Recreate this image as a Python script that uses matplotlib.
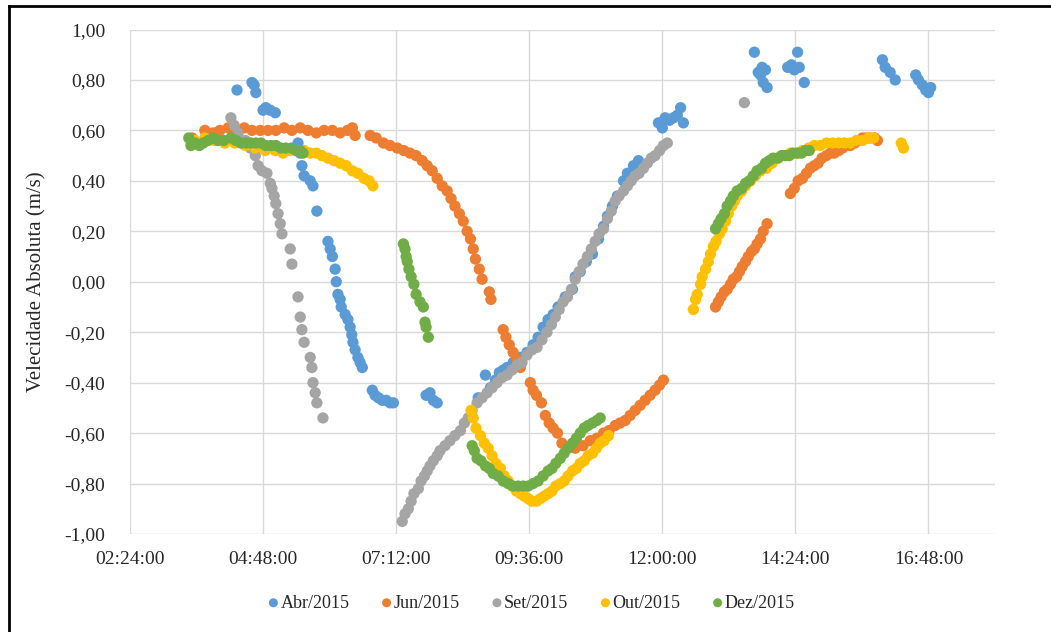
import matplotlib
matplotlib.use("Agg")
import matplotlib.pyplot as plt
from matplotlib.ticker import FuncFormatter, FixedLocator
from matplotlib.lines import Line2D

# Measurement time (decimal hours) and absolute velocity (m/s) per campaign
abr_hours = [4.33, 4.60, 4.64, 4.67, 4.80, 4.85, 4.93, 5.02, 5.43, 5.47, 5.50, 5.54, 5.65, 5.70,
             5.77, 5.97, 6.01, 6.05, 6.10, 6.12, 6.15, 6.19, 6.21, 6.28, 6.33, 6.37, 6.40, 6.42,
             6.46, 6.51, 6.55, 6.59, 6.77, 6.82, 6.88, 6.95, 7.02, 7.09, 7.15, 7.74, 7.81, 7.87,
             7.94, 8.68, 8.81, 8.90, 8.99, 9.06, 9.13, 9.20, 9.31, 9.44, 9.56, 9.67, 9.76, 9.85,
             9.94, 10.03, 10.12, 10.25, 10.38, 10.43, 10.52, 10.63, 10.74, 10.85, 10.94, 11.01,
             11.10, 11.19, 11.30, 11.37, 11.48, 11.57, 11.93, 12.00, 12.05, 12.13, 12.20, 12.27,
             12.33, 12.38, 13.66, 13.73, 13.77, 13.80, 13.86, 13.82, 13.89, 14.26, 14.33, 14.38,
             14.44, 14.47, 14.56, 15.97, 16.02, 16.11, 16.20, 16.57, 16.62, 16.69, 16.75, 16.80,
             16.84]
abr_vel = [0.76, 0.79, 0.78, 0.75, 0.68, 0.69, 0.68, 0.67, 0.55, 0.51, 0.46, 0.42, 0.40, 0.38,
           0.28, 0.16, 0.13, 0.10, 0.05, 0.00, -0.05, -0.07, -0.10, -0.13, -0.15, -0.18, -0.21,
           -0.24, -0.27, -0.30, -0.32, -0.34, -0.43, -0.45, -0.46, -0.47, -0.47, -0.48, -0.48,
           -0.45, -0.44, -0.47, -0.48, -0.46, -0.37, -0.42, -0.39, -0.36, -0.35, -0.34, -0.32,
           -0.30, -0.28, -0.25, -0.22, -0.18, -0.15, -0.13, -0.10, -0.06, -0.03, 0.02, 0.04,
           0.08, 0.11, 0.17, 0.22, 0.26, 0.30, 0.34, 0.40, 0.43, 0.46, 0.48, 0.63, 0.61, 0.65,
           0.64, 0.65, 0.66, 0.69, 0.63, 0.91, 0.83, 0.82, 0.85, 0.84, 0.79, 0.77, 0.85, 0.86,
           0.84, 0.91, 0.85, 0.79, 0.88, 0.85, 0.83, 0.80, 0.82, 0.80, 0.78, 0.76, 0.75, 0.77]

jun_hours = [3.52, 3.75, 3.90, 4.02, 4.17, 4.31, 4.46, 4.60, 4.75, 4.89, 5.03, 5.18, 5.32, 5.47,
             5.61, 5.76, 5.90, 6.05, 6.19, 6.32, 6.41, 6.46, 6.73, 6.84, 6.97, 7.09, 7.22, 7.34,
             7.45, 7.56, 7.67, 7.76, 7.85, 7.94, 8.03, 8.12, 8.19, 8.26, 8.34, 8.41, 8.48, 8.54,
             8.59, 8.63, 8.70, 8.75, 8.88, 8.91, 9.13, 9.18, 9.24, 9.31, 9.38, 9.44, 9.62, 9.67,
             9.73, 9.82, 9.89, 9.96, 10.03, 10.11, 10.19, 10.28, 10.43, 10.57, 10.70, 10.82,
             10.94, 11.04, 11.15, 11.24, 11.33, 11.42, 11.51, 11.60, 11.69, 11.78, 11.87, 11.95,
             12.02, 12.96, 13.01, 13.06, 13.12, 13.17, 13.23, 13.28, 13.34, 13.39, 13.44, 13.50,
             13.55, 13.61, 13.66, 13.71, 13.77, 13.82, 13.89, 14.31, 14.38, 14.45, 14.53, 14.60,
             14.67, 14.74, 14.81, 14.88, 14.96, 15.03, 15.10, 15.18, 15.25, 15.32, 15.39, 15.47,
             15.54, 15.61, 15.68, 15.75, 15.83, 15.88]
jun_vel = [0.57, 0.60, 0.59, 0.60, 0.61, 0.60, 0.61, 0.60, 0.60, 0.60, 0.60, 0.61, 0.60, 0.61,
           0.60, 0.59, 0.60, 0.60, 0.59, 0.60, 0.61, 0.58, 0.58, 0.57, 0.55, 0.54, 0.53, 0.52,
           0.51, 0.50, 0.48, 0.46, 0.44, 0.41, 0.38, 0.36, 0.33, 0.30, 0.27, 0.24, 0.20, 0.17,
           0.13, 0.09, 0.05, 0.01, -0.04, -0.07, -0.19, -0.22, -0.25, -0.28, -0.31, -0.34,
           -0.40, -0.43, -0.45, -0.48, -0.53, -0.56, -0.58, -0.60, -0.64, -0.66, -0.66, -0.65,
           -0.63, -0.62, -0.60, -0.59, -0.57, -0.56, -0.55, -0.53, -0.51, -0.49, -0.47, -0.45,
           -0.43, -0.41, -0.39, -0.10, -0.08, -0.06, -0.04, -0.03, -0.01, 0.01, 0.02, 0.04,
           0.06, 0.08, 0.10, 0.12, 0.13, 0.15, 0.17, 0.20, 0.23, 0.35, 0.37, 0.40, 0.41, 0.43,
           0.45, 0.46, 0.47, 0.49, 0.50, 0.51, 0.51, 0.52, 0.53, 0.54, 0.54, 0.55, 0.56, 0.57,
           0.57, 0.57, 0.57, 0.56]

set_hours = [4.22, 4.28, 4.35, 4.48, 4.57, 4.66, 4.71, 4.78, 4.87, 4.93, 4.96, 5.00, 5.03, 5.07,
             5.11, 5.14, 5.29, 5.32, 5.43, 5.47, 5.50, 5.54, 5.65, 5.68, 5.70, 5.74, 5.77, 5.88,
             7.31, 7.36, 7.42, 7.47, 7.52, 7.60, 7.65, 7.71, 7.76, 7.81, 7.87, 7.94, 7.99, 8.08,
             8.17, 8.26, 8.36, 8.43, 8.50, 8.57, 8.66, 8.75, 8.84, 8.93, 9.02, 9.11, 9.20, 9.29,
             9.38, 9.47, 9.56, 9.65, 9.74, 9.83, 9.92, 10.00, 10.07, 10.14, 10.21, 10.29, 10.36,
             10.43, 10.50, 10.57, 10.65, 10.72, 10.79, 10.86, 10.94, 11.01, 11.08, 11.15, 11.22,
             11.30, 11.37, 11.44, 11.51, 11.58, 11.66, 11.73, 11.80, 11.87, 11.95, 12.02, 12.09,
             13.48]
set_vel = [0.65, 0.62, 0.59, 0.56, 0.53, 0.50, 0.46, 0.44, 0.43, 0.39, 0.37, 0.34, 0.31, 0.27,
           0.23, 0.19, 0.13, 0.07, -0.06, -0.14, -0.19, -0.24, -0.30, -0.34, -0.40, -0.44, -0.48,
           -0.54, -0.95, -0.92, -0.90, -0.87, -0.84, -0.82, -0.79, -0.77, -0.75, -0.73, -0.71,
           -0.69, -0.67, -0.65, -0.63, -0.61, -0.59, -0.56, -0.54, -0.51, -0.48, -0.46, -0.44,
           -0.42, -0.40, -0.38, -0.37, -0.35, -0.33, -0.32, -0.29, -0.27, -0.26, -0.23, -0.20,
           -0.17, -0.14, -0.11, -0.08, -0.06, -0.03, 0.01, 0.04, 0.07, 0.10, 0.13, 0.16, 0.19,
           0.21, 0.25, 0.28, 0.32, 0.34, 0.36, 0.38, 0.40, 0.42, 0.43, 0.45, 0.47, 0.49, 0.50,
           0.52, 0.54, 0.55, 0.71]

out_hours = [3.57, 3.75, 3.93, 4.11, 4.29, 4.48, 4.66, 4.84, 5.02, 5.16, 5.29, 5.41, 5.54, 5.65,
             5.76, 5.86, 5.97, 6.08, 6.19, 6.30, 6.41, 6.51, 6.62, 6.71, 6.78, 8.55, 8.59, 8.64,
             8.72, 8.79, 8.86, 8.93, 9.00, 9.08, 9.15, 9.22, 9.29, 9.37, 9.44, 9.51, 9.58, 9.65,
             9.73, 9.80, 9.87, 9.94, 10.01, 10.08, 10.16, 10.23, 10.30, 10.38, 10.45, 10.52,
             10.59, 10.66, 10.74, 10.81, 10.88, 10.95, 11.03, 12.56, 12.60, 12.63, 12.69, 12.72,
             12.78, 12.83, 12.87, 12.92, 12.97, 13.03, 13.08, 13.14, 13.19, 13.25, 13.30, 13.35,
             13.43, 13.50, 13.59, 13.68, 13.77, 13.88, 13.98, 14.09, 14.20, 14.31, 14.42, 14.53,
             14.64, 14.74, 14.85, 14.96, 15.07, 15.18, 15.28, 15.39, 15.50, 15.61, 15.72, 15.81,
             16.31, 16.35]
out_vel = [0.56, 0.57, 0.56, 0.55, 0.55, 0.54, 0.53, 0.52, 0.52, 0.51, 0.52, 0.52, 0.52, 0.51,
           0.51, 0.50, 0.49, 0.48, 0.47, 0.46, 0.44, 0.43, 0.41, 0.40, 0.38, -0.51, -0.54, -0.58,
           -0.61, -0.64, -0.66, -0.69, -0.72, -0.74, -0.77, -0.79, -0.81, -0.83, -0.84, -0.85,
           -0.86, -0.87, -0.87, -0.86, -0.85, -0.84, -0.83, -0.81, -0.80, -0.79, -0.77, -0.75,
           -0.74, -0.72, -0.71, -0.69, -0.68, -0.66, -0.64, -0.63, -0.61, -0.11, -0.07, -0.05,
           -0.01, 0.02, 0.05, 0.08, 0.11, 0.14, 0.16, 0.19, 0.21, 0.24, 0.27, 0.30, 0.32, 0.34,
           0.36, 0.38, 0.40, 0.42, 0.44, 0.45, 0.47, 0.49, 0.50, 0.51, 0.51, 0.52, 0.53, 0.54,
           0.54, 0.55, 0.55, 0.55, 0.55, 0.55, 0.56, 0.56, 0.57, 0.57, 0.55, 0.53]

dez_hours = [3.46, 3.50, 3.57, 3.65, 3.72, 3.81, 3.90, 3.99, 4.09, 4.22, 4.31, 4.40, 4.49, 4.58,
             4.67, 4.76, 4.85, 4.94, 5.03, 5.12, 5.21, 5.31, 5.40, 5.47, 5.52, 7.33, 7.36, 7.38,
             7.40, 7.43, 7.47, 7.52, 7.56, 7.63, 7.69, 7.72, 7.74, 7.78, 8.57, 8.61, 8.66, 8.73,
             8.81, 8.88, 8.95, 9.04, 9.13, 9.22, 9.31, 9.40, 9.49, 9.58, 9.67, 9.76, 9.85, 9.94,
             10.01, 10.08, 10.16, 10.23, 10.30, 10.38, 10.45, 10.52, 10.59, 10.66, 10.74, 10.82,
             10.88, 12.96, 13.01, 13.06, 13.12, 13.17, 13.23, 13.28, 13.35, 13.43, 13.50, 13.57,
             13.64, 13.71, 13.79, 13.86, 13.93, 14.00, 14.08, 14.15, 14.22, 14.29, 14.36, 14.44,
             14.51, 14.58, 14.65]
dez_vel = [0.57, 0.54, 0.55, 0.54, 0.55, 0.56, 0.57, 0.56, 0.56, 0.57, 0.56, 0.55, 0.55, 0.55,
           0.55, 0.55, 0.54, 0.54, 0.54, 0.53, 0.53, 0.53, 0.52, 0.52, 0.51, 0.15, 0.13, 0.10,
           0.08, 0.05, 0.02, -0.01, -0.05, -0.08, -0.10, -0.16, -0.18, -0.22, -0.65, -0.67,
           -0.70, -0.71, -0.73, -0.74, -0.76, -0.77, -0.79, -0.80, -0.81, -0.81, -0.81, -0.81,
           -0.80, -0.79, -0.77, -0.75, -0.74, -0.72, -0.70, -0.68, -0.66, -0.64, -0.62, -0.60,
           -0.58, -0.57, -0.56, -0.55, -0.54, 0.21, 0.23, 0.25, 0.27, 0.30, 0.32, 0.34, 0.36,
           0.37, 0.39, 0.40, 0.42, 0.44, 0.45, 0.47, 0.48, 0.49, 0.49, 0.50, 0.50, 0.50, 0.51,
           0.51, 0.51, 0.52, 0.52]

series_labels = ["Abr/2015", "Jun/2015", "Set/2015", "Out/2015", "Dez/2015"]
series_hours = [abr_hours, jun_hours, set_hours, out_hours, dez_hours]
series_vel = [abr_vel, jun_vel, set_vel, out_vel, dez_vel]
series_colors = ["#5B9BD5", "#ED7D31", "#A5A5A5", "#FFC000", "#70AD47"]

plt.rcParams["font.family"] = ["Liberation Serif", "DejaVu Serif"]

W, H = 1051, 632
fig = plt.figure(figsize=(W / 100, H / 100), dpi=100)
ax = fig.add_axes([130 / W, 1 - 534 / H, 865 / W, 504.5 / H])

for lab, hrs, vel, col in zip(series_labels, series_hours, series_vel, series_colors):
    days = [h / 24.0 for h in hrs]
    ax.scatter(days, vel, s=66, color=col, edgecolors="none", label=lab, zorder=3)

ax.set_xlim(0.1, 0.75)
ax.set_ylim(-1.0, 1.0)
ax.xaxis.set_major_locator(FixedLocator([0.1, 0.2, 0.3, 0.4, 0.5, 0.6, 0.7]))
ax.yaxis.set_major_locator(FixedLocator([-1.0 + 0.2 * i for i in range(11)]))


def fmt_time(x, pos):
    total = int(round(x * 86400))
    h, rem = divmod(total, 3600)
    m, s = divmod(rem, 60)
    return f"{h:02d}:{m:02d}:{s:02d}"


def fmt_vel(y, pos):
    return f"{y:.2f}".replace(".", ",").replace("−", "-")


ax.xaxis.set_major_formatter(FuncFormatter(fmt_time))
ax.yaxis.set_major_formatter(FuncFormatter(fmt_vel))

ax.grid(True, color="#D9D9D9", linewidth=1.0, zorder=0)
ax.set_axisbelow(True)
for sp in ax.spines.values():
    sp.set_visible(False)
ax.tick_params(axis="both", length=0, labelsize=14)
ax.tick_params(axis="x", pad=12)
ax.tick_params(axis="y", pad=18)
for t in ax.get_xticklabels() + ax.get_yticklabels():
    t.set_color("#262626")

ax.set_ylabel("Velecidade Absoluta (m/s)", fontsize=15, color="#262626")
ax.yaxis.set_label_coords(-0.096, 0.5)

leg = fig.legend(loc="center", bbox_to_anchor=(0.5057, 1 - 603 / H), ncol=5, frameon=False,
                 fontsize=13, markerscale=0.8, handlelength=0.6, handletextpad=0.1,
                 columnspacing=1.75, scatterpoints=1)
for t in leg.get_texts():
    t.set_color("#262626")

# Outer frame lines
fig.add_artist(Line2D([9 / W, 9 / W], [0, 1 - 6 / H], transform=fig.transFigure,
                      color="black", linewidth=2))
fig.add_artist(Line2D([9 / W, 1], [1 - 6 / H, 1 - 6 / H], transform=fig.transFigure,
                      color="black", linewidth=2))

fig.savefig("out.png", dpi=100)
